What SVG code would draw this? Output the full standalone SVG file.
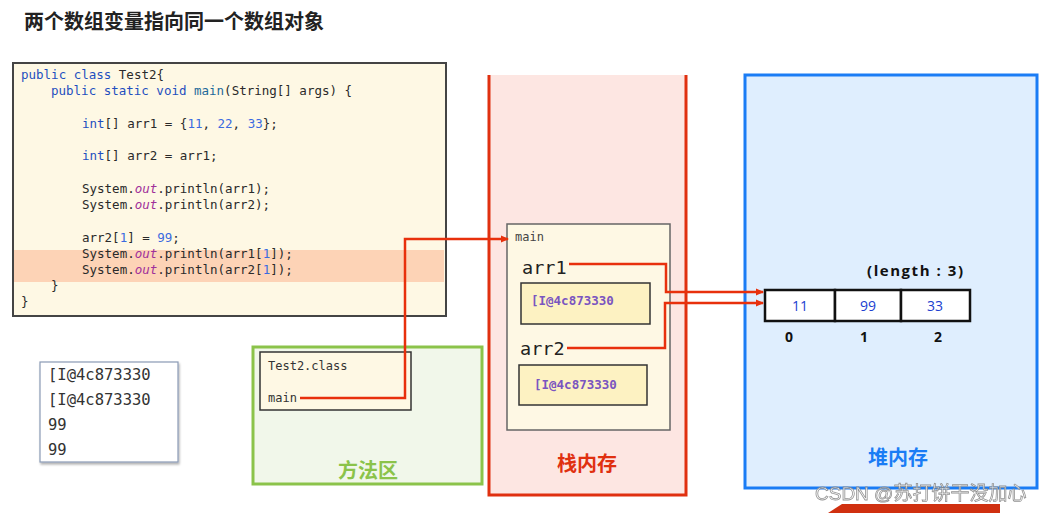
<svg xmlns="http://www.w3.org/2000/svg" width="1040" height="513" viewBox="0 0 1040 513">
<style>
.code{font-family:"DejaVu Sans Mono","Liberation Mono",monospace;font-size:12.5px;fill:#2a2a2a}
.kw{fill:#1f4fbf}
.mn{fill:#1d6a9a}
.num{fill:#3a6ae0}
.out{fill:#a0309a;font-style:italic}
.cjk{font-family:"Noto Sans CJK SC","Noto Sans",sans-serif;font-weight:bold}
.mono{font-family:"DejaVu Sans Mono","Liberation Mono",monospace}
.addr{font-family:"DejaVu Sans Mono",monospace;font-size:12.5px;font-weight:bold;fill:#7a55c0}
.cell{fill:#fff;stroke:#111;stroke-width:2.5}
.val{font-family:"Open Sans","Liberation Sans",sans-serif;font-size:14px;fill:#2040d0;text-anchor:middle}
.idx{font-family:"Open Sans","Liberation Sans",sans-serif;font-size:14px;font-weight:bold;fill:#111;text-anchor:middle}
.conn{fill:none;stroke:#e8300c;stroke-width:2.5}
</style>
<defs>
<marker id="ah" markerWidth="8" markerHeight="8" refX="7" refY="4" orient="auto" markerUnits="userSpaceOnUse">
<path d="M0,0.5 L8,4 L0,7.5 Z" fill="#e8300c"/>
</marker>
<filter id="sh" x="-10%" y="-10%" width="130%" height="130%">
<feDropShadow dx="1" dy="2" stdDeviation="1.2" flood-color="#000" flood-opacity="0.3"/>
</filter>
</defs>
<rect width="1040" height="513" fill="#fff"/>

<text id="title" x="24" y="29" class="cjk" font-size="20" fill="#222">两个数组变量指向同一个数组对象</text>

<g id="code">
<rect x="13" y="63" width="433" height="253" fill="#fef8e4" stroke="#444" stroke-width="2"/>
<rect x="14" y="250" width="430" height="32" fill="#fdd3b6"/>
<text class="code" x="21" y="79"><tspan class="kw">public class</tspan> Test2{</text>
<text class="code" x="51" y="95"><tspan class="kw">public static void</tspan> <tspan class="mn">main</tspan>(String[] args) {</text>
<text class="code" x="82" y="128"><tspan class="kw">int</tspan>[] arr1 = {<tspan class="num">11</tspan>, <tspan class="num">22</tspan>, <tspan class="num">33</tspan>};</text>
<text class="code" x="82" y="160"><tspan class="kw">int</tspan>[] arr2 = arr1;</text>
<text class="code" x="82" y="193">System.<tspan class="out">out</tspan>.println(arr1);</text>
<text class="code" x="82" y="209">System.<tspan class="out">out</tspan>.println(arr2);</text>
<text class="code" x="82" y="242">arr2[<tspan class="num">1</tspan>] = <tspan class="num">99</tspan>;</text>
<text class="code" x="82" y="258">System.<tspan class="out">out</tspan>.println(arr1[<tspan class="num">1</tspan>]);</text>
<text class="code" x="82" y="274">System.<tspan class="out">out</tspan>.println(arr2[<tspan class="num">1</tspan>]);</text>
<text class="code" x="51" y="290">}</text>
<text class="code" x="21" y="306">}</text>
</g>

<g id="console">
<rect x="40" y="362" width="138" height="100" fill="#fff" stroke="#8a9ab5" stroke-width="1.2" filter="url(#sh)"/>
<text class="mono" font-size="15.5" fill="#333" x="48" y="380">[I@4c873330</text>
<text class="mono" font-size="15.5" fill="#333" x="48" y="405">[I@4c873330</text>
<text class="mono" font-size="15.5" fill="#333" x="48" y="430">99</text>
<text class="mono" font-size="15.5" fill="#333" x="48" y="455">99</text>
</g>

<g id="method-area">
<rect x="253" y="347" width="229" height="137" fill="#f1f7ea" stroke="#8bc34a" stroke-width="3"/>
<text x="368" y="478" class="cjk" font-size="20" fill="#8bc34a" text-anchor="middle">方法区</text>
</g>
<g id="test2-class">
<rect x="260" y="352" width="151" height="58" fill="#fef8e4" stroke="#333" stroke-width="1.5"/>
<text class="mono" font-size="12" fill="#333" x="268" y="370">Test2.class</text>
<text class="mono" font-size="12" fill="#333" x="268" y="402">main</text>
</g>

<g id="stack">
<rect x="489" y="75" width="197" height="420" fill="#fde6e2"/>
<path d="M489,75 V495 H686 V75" fill="none" stroke="#e03010" stroke-width="3"/>
<text x="587" y="471" class="cjk" font-size="20" fill="#e03010" text-anchor="middle">栈内存</text>
</g>
<g id="main-frame">
<rect x="507" y="224" width="163" height="206" fill="#fef8e4" stroke="#666" stroke-width="1.5"/>
<text class="mono" font-size="12" fill="#444" x="515" y="241">main</text>
<text class="mono" font-size="18.5" fill="#222" x="522" y="274">arr1</text>
<rect x="521" y="283" width="129" height="41" fill="#fdf2c2" stroke="#333" stroke-width="1.5"/>
<text class="addr" x="531" y="305">[I@4c873330</text>
<text class="mono" font-size="18.5" fill="#222" x="520" y="355">arr2</text>
<rect x="519" y="365" width="128" height="40" fill="#fdf2c2" stroke="#333" stroke-width="1.5"/>
<text class="addr" x="534" y="389">[I@4c873330</text>
</g>

<g id="heap">
<rect x="745" y="75" width="292" height="413" fill="#dfeefe" stroke="#1a7cf5" stroke-width="3"/>
<text x="898" y="465" class="cjk" font-size="20" fill="#1a7cf5" text-anchor="middle">堆内存</text>
</g>
<g id="array">
<text x="867" y="276" font-family="'Open Sans','Liberation Sans',sans-serif" font-size="15" font-weight="bold" fill="#111" textLength="96" lengthAdjust="spacing">(length : 3)</text>
<rect class="cell" x="765" y="290" width="70" height="31"/>
<rect class="cell" x="835" y="290" width="66" height="31"/>
<rect class="cell" x="901" y="290" width="69" height="31"/>
<text class="val" x="800" y="311">11</text>
<text class="val" x="868" y="311">99</text>
<text class="val" x="935" y="311">33</text>
<text class="idx" x="789" y="342">0</text>
<text class="idx" x="864" y="342">1</text>
<text class="idx" x="938" y="342">2</text>
</g>

<g id="connectors">
<path class="conn" d="M300,398 H405 V239 H508" marker-end="url(#ah)"/>
<path class="conn" d="M569,264 H666 V292 H763" marker-end="url(#ah)"/>
<path class="conn" d="M567,348 H665 V303 H763" marker-end="url(#ah)"/>
</g>

<g id="watermark">
<path d="M828,513 L842,504 H1000 V513 Z" fill="#d03010"/>
<text x="815" y="500" font-family="'Liberation Sans','Noto Sans CJK SC',sans-serif" font-size="19" fill="#fff" stroke="#888" stroke-width="0.8" opacity="0.9">CSDN @苏打饼干没加心</text>
</g>
</svg>
